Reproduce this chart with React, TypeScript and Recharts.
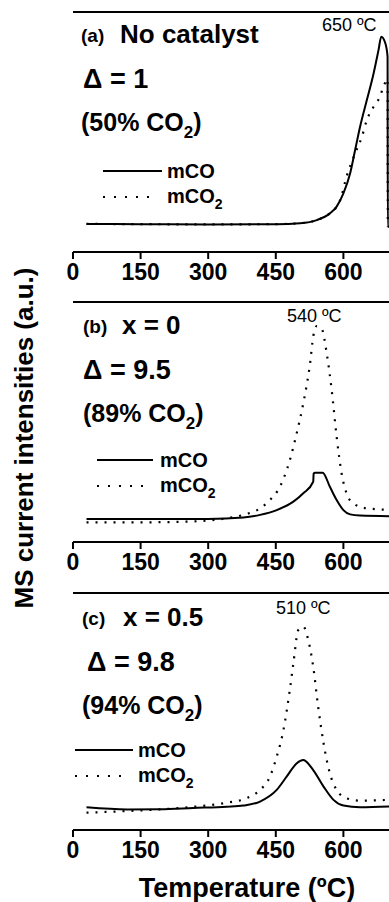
import { LineChart, Line, XAxis, YAxis, ReferenceLine } from "recharts";

// panel (a) no catalyst
const tempA_CO = [30, 150, 300, 450, 504, 541, 570, 585, 600, 615, 626, 637, 652, 667, 678, 684, 693, 698, 698.5, 720];
const valA_CO = [11.7, 11.6, 11.5, 11.6, 12.0, 13.3, 16.1, 18.9, 24.4, 32.8, 42.5, 52.2, 63.3, 74.4, 84.2, 89.7, 87, 81.4, 10.5, 10.5];
const tempA_CO2 = [30, 150, 300, 450, 504, 541, 570, 585, 593, 607, 626, 641, 652, 667, 681, 689, 698, 698.5];
const valA_CO2 = [11.7, 11.6, 11.5, 11.6, 12.0, 13.3, 16.1, 18.9, 21.7, 31.4, 41.1, 48, 55, 60.5, 64.7, 68.9, 72, 10.5];

// panel (b) x = 0
const tempB_CO = [30, 150, 300, 378, 415, 452, 489, 511, 533, 534, 537, 554, 570, 585, 600, 615, 637, 720];
const valB_CO = [9.6, 9.6, 9.6, 10.2, 11.3, 13.3, 16.8, 20.3, 25.1, 28.5, 28.9, 28.9, 23, 17.5, 13.3, 11.5, 11, 10.7];
const tempB_CO2 = [30, 150, 267, 341, 378, 415, 437, 459, 481, 496, 511, 526, 533, 541, 552, 563, 574, 585, 596, 607, 622, 652, 720];
const valB_CO2 = [8.2, 8.2, 8.6, 9.9, 11.3, 14, 17.5, 23, 34, 45, 57.8, 74.4, 85.5, 90, 88.8, 78.6, 63.3, 43.9, 28.6, 20.3, 16.1, 14, 13.3];

// panel (c) x = 0.5
const tempC_CO = [30, 120, 193, 267, 341, 378, 415, 452, 474, 496, 511, 533, 556, 578, 600, 637, 720];
const valC_CO = [9.6, 8.7, 8.8, 9.3, 9.8, 10.3, 12, 16.9, 22.5, 28.1, 29.5, 25.3, 18.3, 12.7, 10.3, 9.6, 10.1];
const tempC_CO2 = [30, 119, 193, 267, 341, 385, 415, 437, 452, 467, 481, 489, 500, 511, 522, 533, 544, 556, 570, 585, 607, 637, 720];
const valC_CO2 = [7.3, 8.0, 8.7, 9.8, 11.5, 13.4, 16.9, 22.5, 30.9, 42.2, 59, 70.3, 84.4, 85.8, 80.2, 68.9, 52, 36.6, 23.9, 16.9, 13.4, 12.4, 12.9];

const xTicks = [0, 150, 300, 450, 600];

const toPoints = (t: number[], v: number[]) => t.map((x, i) => ({ T: x, v: v[i] }));

const FONT = "'Liberation Sans', Arial, sans-serif";

type PanelProps = {
  top: number;
  height: number;
  co: { T: number; v: number }[];
  co2: { T: number; v: number }[];
};

const Panel = ({ top, height, co, co2 }: PanelProps) => (
  <div style={{ position: "absolute", left: 0, top }}>
    <LineChart
      width={430}
      height={height}
      margin={{ top: 12, right: 19, left: 73, bottom: 0 }}
    >
      <XAxis
        dataKey="T"
        type="number"
        domain={[0, 750]}
        ticks={xTicks}
        allowDataOverflow
        height={48}
        tickSize={7}
        tickMargin={5}
        stroke="#000"
        strokeWidth={2}
        tick={{ fill: "#000", fontSize: 23, fontWeight: 700, fontFamily: FONT }}
      />
      <YAxis
        type="number"
        domain={[0, 100]}
        width={0}
        tick={false}
        tickLine={false}
        stroke="#000"
        strokeWidth={2}
      />
      <ReferenceLine y={100} stroke="#000" strokeWidth={2} />
      <Line
        data={co2}
        dataKey="v"
        type="monotone"
        stroke="#000"
        strokeWidth={2.2}
        strokeDasharray="2 7"
        dot={false}
        isAnimationActive={false}
      />
      <Line
        data={co}
        dataKey="v"
        type="monotone"
        stroke="#000"
        strokeWidth={2}
        dot={false}
        isAnimationActive={false}
      />
    </LineChart>
  </div>
);

const Notes = ({
  dy,
  tag,
  title,
  titleX,
  delta,
  deltaX,
  pct,
  pctX,
  legX,
  legW,
  legY,
  txtX,
  peak,
  peakX,
}: {
  dy: number;
  tag: string;
  title: string;
  titleX: number;
  delta: string;
  deltaX: number;
  pct: string;
  pctX: number;
  legX: number;
  legW: number;
  legY: number;
  txtX: number;
  peak: string;
  peakX: number;
}) => (
  <g fontFamily={FONT} fill="#000">
    <text x={pctX} y={dy + 42} fontSize={19} fontWeight={700}>{tag}</text>
    <text x={titleX} y={dy + 43} fontSize={26} fontWeight={700}>{title}</text>
    <text x={deltaX} y={dy + 88} fontSize={27} fontWeight={700}>{delta}</text>
    <text x={pctX} y={dy + 131} fontSize={25} fontWeight={700}>
      {pct}
      <tspan fontSize={17} dy={7}>2</tspan>
      <tspan dy={-7}>)</tspan>
    </text>
    <line x1={legX} x2={legX + legW} y1={legY} y2={legY} stroke="#000" strokeWidth={2} />
    <text x={txtX} y={legY + 7} fontSize={20} fontWeight={700}>mCO</text>
    <line x1={legX} x2={legX + legW - 6} y1={legY + 26} y2={legY + 26} stroke="#000" strokeWidth={2.2} strokeDasharray="2 9" />
    <text x={txtX} y={legY + 32} fontSize={20} fontWeight={700}>
      mCO<tspan fontSize={14} dy={6}>2</tspan>
    </text>
    <text x={peakX} y={dy + 31} fontSize={18}>{peak}</text>
  </g>
);

const App = () => {
  return (
    <div
      style={{
        position: "absolute",
        left: 0,
        top: 0,
        width: 389,
        height: 902,
        overflow: "hidden",
        background: "#fff",
      }}
    >
      <Panel top={0} height={300} co={toPoints(tempA_CO, valA_CO)} co2={toPoints(tempA_CO2, valA_CO2)} />
      <Panel top={290} height={300} co={toPoints(tempB_CO, valB_CO)} co2={toPoints(tempB_CO2, valB_CO2)} />
      <Panel top={581} height={297} co={toPoints(tempC_CO, valC_CO)} co2={toPoints(tempC_CO2, valC_CO2)} />
      <svg
        width={389}
        height={902}
        style={{ position: "absolute", left: 0, top: 0, pointerEvents: "none" }}
      >
        <Notes dy={0} tag="(a)" title="No catalyst" titleX={120} delta="Δ = 1" deltaX={83}
          pct="(50% CO" pctX={81} legX={103} legW={59} legY={171} txtX={167} peak="650 ºC" peakX={322} />
        <Notes dy={291} tag="(b)" title="x = 0" titleX={122} delta="Δ = 9.5" deltaX={83}
          pct="(89% CO" pctX={83} legX={97} legW={56} legY={460} txtX={160} peak="540 ºC" peakX={287} />
        <Notes dy={583} tag="(c)" title="x = 0.5" titleX={123} delta="Δ = 9.8" deltaX={87}
          pct="(94% CO" pctX={82} legX={75} legW={58} legY={750} txtX={138} peak="510 ºC" peakX={276} />
        <text
          transform="translate(24 438) rotate(-90)"
          textAnchor="middle"
          dominantBaseline="central"
          fontFamily={FONT}
          fontSize={26}
          fontWeight={700}
        >
          MS current intensities (a.u.)
        </text>
        <text x={247} y={897} textAnchor="middle" fontFamily={FONT} fontSize={27} fontWeight={700}>
          Temperature (ºC)
        </text>
      </svg>
    </div>
  );
};

export default App;
